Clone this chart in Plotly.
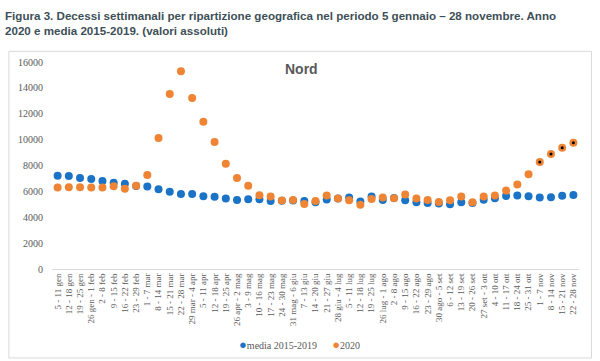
import plotly.graph_objects as go

weeks = ["5 - 11 gen", "12 - 18 gen", "19 - 25 gen", "26 gen - 1 feb", "2 - 8 feb", "9 - 15 feb",
         "16 - 22 feb", "23 - 29 feb", "1 - 7 mar", "8 - 14 mar", "15 - 21 mar", "22 - 28 mar",
         "29 mar - 4 apr", "5 - 11 apr", "12 - 18 apr", "19 - 25 apr", "26 apr - 2 mag", "3 - 9 mag",
         "10 - 16 mag", "17 - 23 mag", "24 - 30 mag", "31 mag - 6 giu", "7 - 13 giu", "14 - 20 giu",
         "21 - 27 giu", "28 giu - 4 lug", "5 - 11 lug", "12 - 18 lug", "19 - 25 lug", "26 lug - 1 ago",
         "2 - 8 ago", "9 - 15 ago", "16 - 22 ago", "23 - 29 ago", "30 ago - 5 set", "6 - 12 set",
         "13 - 19 set", "20 - 26 set", "27 set - 3 ott", "4 - 10 ott", "11 - 17 ott", "18 - 24 ott",
         "25 - 31 ott", "1 - 7 nov", "8 - 14 nov", "15 - 21 nov", "22 - 28 nov"]

media_2015_2019 = [7214, 7191, 7036, 6960, 6805, 6674, 6580, 6420, 6380, 6166, 5970, 5803,
                   5803, 5626, 5580, 5455, 5340, 5400, 5395, 5264, 5270, 5300, 5264, 5164,
                   5364, 5450, 5518, 5220, 5595, 5341, 5480, 5318, 5164, 5110, 5056, 5010,
                   5164, 5110, 5350, 5460, 5640, 5672, 5626, 5530, 5549, 5660, 5726]

decessi_2020 = [6290, 6320, 6320, 6290, 6290, 6400, 6200, 6430, 7268, 10119, 13534, 15283,
                13226, 11376, 9811, 8139, 7036, 6430, 5703, 5595, 5300, 5341, 5033, 5264,
                5672, 5441, 5318, 4970, 5420, 5518, 5472, 5749, 5441, 5341, 5187, 5318,
                5595, 5164, 5595, 5690, 6058, 6530, 7322, 8270, 8886, 9372, 9757]

# weeks with provisional data (marked with a black dot)
provisional_weeks = ["1 - 7 nov", "8 - 14 nov", "15 - 21 nov", "22 - 28 nov"]
provisional_values = [decessi_2020[weeks.index(w)] for w in provisional_weeks]

y_ticks = [0, 2000, 4000, 6000, 8000, 10000, 12000, 14000, 16000]
y_tick_labels = [str(v) for v in y_ticks]

series_names = ["media 2015-2019", "2020"]

BLUE = "#1a73c6"
ORANGE = "#ee8434"
TICK_FONT = "Liberation Serif, Times New Roman, serif"

fig = go.Figure()
fig.add_trace(go.Scatter(x=weeks, y=media_2015_2019, mode="markers", name=series_names[0],
                         marker=dict(color=BLUE, size=8)))
fig.add_trace(go.Scatter(x=weeks, y=decessi_2020, mode="markers", name=series_names[1],
                         marker=dict(color=ORANGE, size=8)))
fig.add_trace(go.Scatter(x=provisional_weeks, y=provisional_values, mode="markers",
                         showlegend=False, hoverinfo="skip",
                         marker=dict(color="black", size=3)))

L, R, T, B = 51.7, 579.5, 61.7, 269.3
W, H = R - L, B - T

def px(x):
    return (x - L) / W

def py(y):
    return (B - y) / H

legend_text = (f"<span style='color:{BLUE};font-size:13px'>●</span>{series_names[0]}"
               f"      <span style='color:{ORANGE};font-size:13px'>●</span>{series_names[1]}")

fig.update_layout(
    width=600, height=361,
    margin=dict(l=L, r=600 - R, t=T, b=361 - B),
    paper_bgcolor="white", plot_bgcolor="white",
    showlegend=False,
    xaxis=dict(type="category", range=[-0.5, len(weeks) - 0.5], tickangle=-90,
               showgrid=False, zeroline=False, showline=True, linecolor="#d9d9d9",
               linewidth=1, ticks="", tickfont=dict(family=TICK_FONT, size=9, color="#595959")),
    yaxis=dict(range=[0, 16000], tickvals=y_ticks, ticktext=y_tick_labels, showgrid=False,
               zeroline=False, showline=False, ticks="", ticklabelstandoff=8,
               tickfont=dict(family=TICK_FONT, size=10, color="#595959")),
    shapes=[dict(type="rect", xref="paper", yref="paper",
                 x0=px(8.5), x1=px(592), y0=py(358.5), y1=py(51),
                 line=dict(color="#d9d9d9", width=1), fillcolor="rgba(0,0,0,0)")],
    annotations=[
        dict(text="<b>Figura 3. Decessi settimanali per ripartizione geografica nel periodo 5 gennaio – 28 novembre. Anno<br>2020 e media 2015-2019. (valori assoluti)</b>",
             xref="paper", yref="paper", x=px(3), y=py(7), xanchor="left", yanchor="top",
             align="left", showarrow=False,
             font=dict(family="Liberation Sans Narrow, Arial Narrow, Liberation Sans, sans-serif",
                       size=11.6, color="#3d4f57")),
        dict(text="<b>Nord</b>", xref="paper", yref="paper", x=px(302), y=py(69),
             xanchor="center", yanchor="middle", showarrow=False,
             font=dict(family="Liberation Sans, Arial, sans-serif", size=14, color="#595959")),
        dict(text=legend_text, xref="paper", yref="paper", x=px(300), y=py(345),
             xanchor="center", yanchor="middle", showarrow=False,
             font=dict(family=TICK_FONT, size=10, color="#595959")),
    ],
)

fig.write_html("out.html", config={"displayModeBar": False},
               post_script="document.body.style.margin='0';document.body.style.overflow='hidden';")
